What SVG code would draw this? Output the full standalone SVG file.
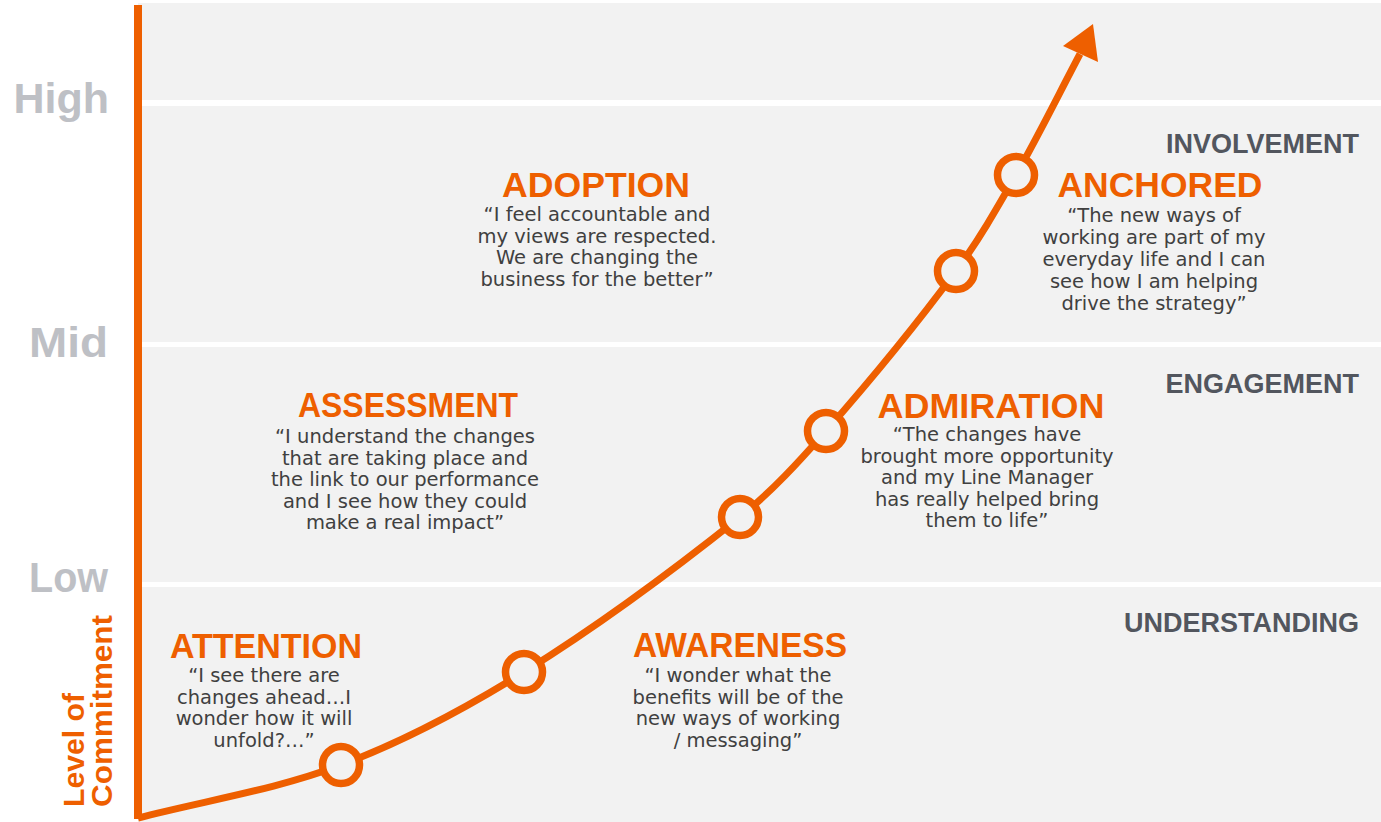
<svg xmlns="http://www.w3.org/2000/svg" width="1381" height="822" viewBox="0 0 1381 822">
  <style>
    .band { fill: #f2f2f2; }
    .title { font-family: "Liberation Sans", Arial, sans-serif; font-weight: bold; font-size: 35px; fill: #ee5f00; text-anchor: middle; }
    .quote { font-family: "DejaVu Sans", "Liberation Sans", sans-serif; font-size: 19.5px; fill: #404040; text-anchor: middle; }
    .phase { font-family: "Liberation Sans", Arial, sans-serif; font-weight: bold; font-size: 27px; fill: #52565e; text-anchor: end; }
    .level { font-family: "Liberation Sans", Arial, sans-serif; font-weight: bold; font-size: 43px; fill: #bec0c5; text-anchor: end; }
    .axis-title { font-family: "Liberation Sans", Arial, sans-serif; font-weight: bold; font-size: 29px; fill: #ee5f00; }
    .dot { fill: #f2f2f2; stroke: #ee5f00; stroke-width: 7.5; }
    .curve { fill: none; stroke: #ee5f00; stroke-width: 7; stroke-linecap: butt; }
  </style>
  <rect x="0" y="0" width="1381" height="822" fill="#ffffff"/>
  <g id="bands">
    <rect class="band" x="138" y="3" width="1243" height="97"/>
    <rect class="band" x="138" y="106" width="1243" height="236"/>
    <rect class="band" x="138" y="347" width="1243" height="235"/>
    <rect class="band" x="138" y="587" width="1243" height="235"/>
  </g>
  <g id="axis">
    <rect x="134" y="5" width="8" height="814" fill="#ee5f00"/>
    <text class="level" x="109" y="113">High</text>
    <text class="level" x="108" y="357" textLength="79" lengthAdjust="spacingAndGlyphs">Mid</text>
    <text class="level" x="108" y="592" textLength="79" lengthAdjust="spacingAndGlyphs">Low</text>
    <text class="axis-title" transform="translate(84,807) rotate(-90)" textLength="114" lengthAdjust="spacingAndGlyphs">Level of</text>
    <text class="axis-title" transform="translate(112,807) rotate(-90)" textLength="192" lengthAdjust="spacingAndGlyphs">Commitment</text>
  </g>
  <g id="phases">
    <text class="phase" x="1359" y="153">INVOLVEMENT</text>
    <text class="phase" x="1359" y="393">ENGAGEMENT</text>
    <text class="phase" x="1359" y="632">UNDERSTANDING</text>
  </g>
  <g id="connectors">
    <path class="curve" d="M138,818 C205.7,800.5 275.6,789.7 341,765 C405,740.9 465.9,708.1 524,672 C599.2,625.2 670.7,572.3 740,517 C771.7,491.7 799.3,461.4 826,431 C871.3,379.4 915.1,326.2 956,271 C978.5,240.7 997.3,207.7 1016,175 C1038.6,135.4 1058.7,94.3 1080,54"/>
    <polygon points="1093,24 1063,46 1098,62" fill="#ee5f00"/>
  </g>
  <g id="dot-1"><circle class="dot" cx="341" cy="765" r="18.5"/></g>
  <g id="dot-2"><circle class="dot" cx="524" cy="672" r="18.5"/></g>
  <g id="dot-3"><circle class="dot" cx="740" cy="517" r="18.5"/></g>
  <g id="dot-4"><circle class="dot" cx="826" cy="431" r="18.5"/></g>
  <g id="dot-5"><circle class="dot" cx="956" cy="271" r="18.5"/></g>
  <g id="dot-6"><circle class="dot" cx="1016" cy="175" r="18.5"/></g>
  <g id="attention">
    <text class="title" x="266" y="658" textLength="192" lengthAdjust="spacingAndGlyphs">ATTENTION</text>
    <text class="quote" x="264" y="682">“I see there are</text>
    <text class="quote" x="264" y="703.5">changes ahead…I</text>
    <text class="quote" x="264" y="725">wonder how it will</text>
    <text class="quote" x="264" y="746.5">unfold?…”</text>
  </g>
  <g id="awareness">
    <text class="title" x="740" y="657" textLength="214" lengthAdjust="spacingAndGlyphs">AWARENESS</text>
    <text class="quote" x="738" y="682">“I wonder what the</text>
    <text class="quote" x="738" y="703.5">benefits will be of the</text>
    <text class="quote" x="738" y="725">new ways of working</text>
    <text class="quote" x="738" y="746.5">/ messaging”</text>
  </g>
  <g id="assessment">
    <text class="title" x="408" y="417" textLength="220" lengthAdjust="spacingAndGlyphs">ASSESSMENT</text>
    <text class="quote" x="405" y="443">“I understand the changes</text>
    <text class="quote" x="405" y="464.5">that are taking place and</text>
    <text class="quote" x="405" y="486">the link to our performance</text>
    <text class="quote" x="405" y="507.5">and I see how they could</text>
    <text class="quote" x="405" y="529">make a real impact”</text>
  </g>
  <g id="admiration">
    <text class="title" x="991" y="418" textLength="227" lengthAdjust="spacingAndGlyphs">ADMIRATION</text>
    <text class="quote" x="987" y="441">“The changes have</text>
    <text class="quote" x="987" y="462.5">brought more opportunity</text>
    <text class="quote" x="987" y="484">and my Line Manager</text>
    <text class="quote" x="987" y="505.5">has really helped bring</text>
    <text class="quote" x="987" y="527">them to life”</text>
  </g>
  <g id="adoption">
    <text class="title" x="596" y="197" textLength="188" lengthAdjust="spacingAndGlyphs">ADOPTION</text>
    <text class="quote" x="597" y="221">“I feel accountable and</text>
    <text class="quote" x="597" y="242.5">my views are respected.</text>
    <text class="quote" x="597" y="264">We are changing the</text>
    <text class="quote" x="597" y="285.5">business for the better”</text>
  </g>
  <g id="anchored">
    <text class="title" x="1160" y="197" textLength="205" lengthAdjust="spacingAndGlyphs">ANCHORED</text>
    <text class="quote" x="1154" y="222">“The new ways of</text>
    <text class="quote" x="1154" y="244">working are part of my</text>
    <text class="quote" x="1154" y="266">everyday life and I can</text>
    <text class="quote" x="1154" y="288">see how I am helping</text>
    <text class="quote" x="1154" y="310">drive the strategy”</text>
  </g>
</svg>
